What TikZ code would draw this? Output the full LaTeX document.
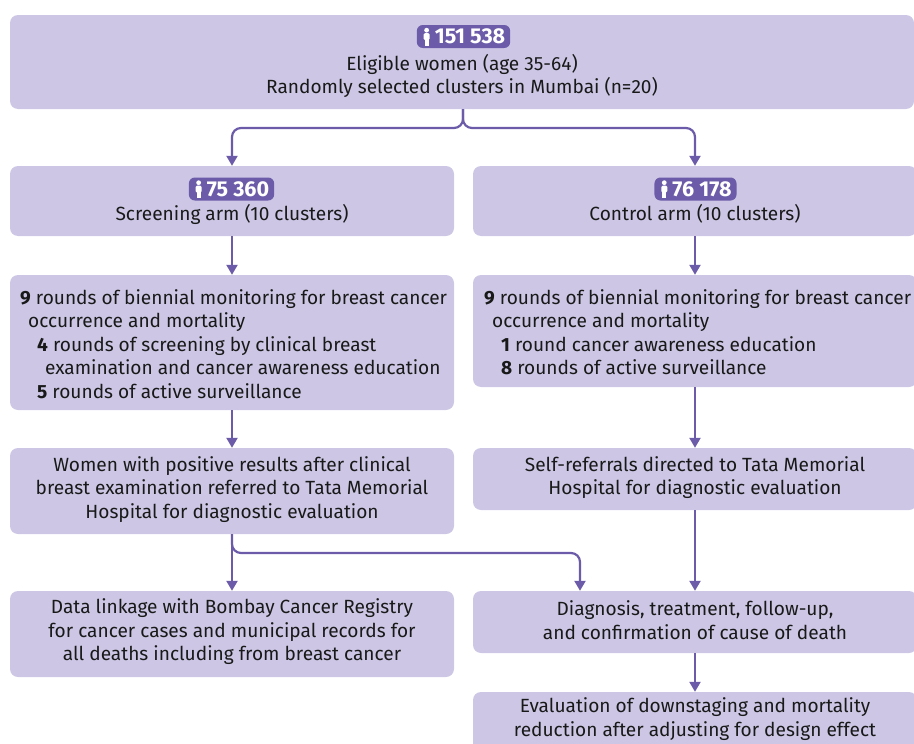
\documentclass[tikz,border=0pt]{standalone}
\usepackage{fontspec}
\setmainfont{Fira Sans}
\usetikzlibrary{arrows.meta,calc}
\definecolor{boxfill}{RGB}{205,199,229}
\definecolor{purp}{RGB}{107,91,168}
\definecolor{txt}{RGB}{25,25,25}
\begin{document}
\begin{tikzpicture}[x=1pt,y=-1pt,
  box/.style={rectangle,rounded corners=8pt,fill=boxfill,draw=none,inner sep=0pt},
  lbl/.style={inner sep=0pt,text=txt,font=\fontsize{19.1}{23.5}\selectfont},
  badge/.style={rectangle,rounded corners=6pt,fill=purp,text=white,inner xsep=5pt,inner ysep=0pt,minimum height=23pt,font=\fontsize{21.5}{22}\selectfont\bfseries},
  arr/.style={draw=purp,line width=2.2pt,-{Triangle[width=11pt,length=10pt]}},
  person/.pic={
    \fill[white] (0,-6.3) circle (2.4);
    \fill[white,rounded corners=1.4pt] (-3,-3.4) rectangle (3,3.6);
    \fill[white] (-2,2.5) rectangle (2,9.4);
  }]
\useasboundingbox (0,0) rectangle (914,744);
% boxes
\node[box,minimum width=904pt,minimum height=94pt] (top) at (462,62) {};
\node[box,minimum width=444pt,minimum height=70pt] (screen) at (232,201) {};
\node[box,minimum width=444pt,minimum height=70pt] (control) at (695,201) {};
\node[box,minimum width=444pt,minimum height=135pt] (mon1) at (232,342.5) {};
\node[box,minimum width=444pt,minimum height=112pt] (mon2) at (695,331) {};
\node[box,minimum width=444pt,minimum height=86pt] (ref1) at (232,491) {};
\node[box,minimum width=444pt,minimum height=62pt] (ref2) at (695,479) {};
\node[box,minimum width=444pt,minimum height=86pt] (link) at (232,634) {};
\node[box,minimum width=444pt,minimum height=62pt] (diag) at (695,622) {};
\node[box,minimum width=444pt,minimum height=68pt] (eval) at (695,726) {};
% badges
\node[badge] (b0) at (463.5,36.5) {\hspace{13pt}151 538};
\pic at ([xshift=10pt]b0.west) {person};
\node[badge] (b1) at (231.5,189) {\hspace{13pt}75 360};
\pic at ([xshift=10pt]b1.west) {person};
\node[badge] (b2) at (695.5,189) {\hspace{13pt}76 178};
\pic at ([xshift=10pt]b2.west) {person};
% texts
\node[lbl,align=center] (t0) at (462,76) {Eligible women (age 35-64)\\Randomly selected clusters in Mumbai (n=20)};
\node[lbl] (t1) at (232,214) {Screening arm (10 clusters)};
\node[lbl] (t2) at (695,214) {Control arm (10 clusters)};
\node[lbl,align=left,anchor=west] (t3) at (20,344) {\textbf{9} rounds of biennial monitoring for breast cancer\\
\hspace*{8pt}occurrence and mortality\\
\hspace*{17pt}\textbf{4} rounds of screening by clinical breast\\
\hspace*{25pt}examination and cancer awareness education\\
\hspace*{17pt}\textbf{5} rounds of active surveillance};
\node[lbl,align=left,anchor=west] (t4) at (484,332) {\textbf{9} rounds of biennial monitoring for breast cancer\\
\hspace*{8pt}occurrence and mortality\\
\hspace*{17pt}\textbf{1} round cancer awareness education\\
\hspace*{17pt}\textbf{8} rounds of active surveillance};
\node[lbl,align=center] (t5) at (232,489.5) {Women with positive results after clinical\\breast examination referred to Tata Memorial\\Hospital for diagnostic evaluation};
\node[lbl,align=center] (t6) at (695,477.5) {Self-referrals directed to Tata Memorial\\Hospital for diagnostic evaluation};
\node[lbl,align=center] (t7) at (232,632) {Data linkage with Bombay Cancer Registry\\for cancer cases and municipal records for\\all deaths including from breast cancer};
\node[lbl,align=center] (t8) at (695,620) {Diagnosis, treatment, follow-up,\\and confirmation of cause of death};
\node[lbl,align=center] (t9) at (695,719) {Evaluation of downstaging and mortality\\reduction after adjusting for design effect};
% connectors
\coordinate (j0) at (463,128);
\coordinate (j1) at (232,553);
\draw[arr,rounded corners=9pt] ([xshift=1pt]top.south) -- (j0) -| (screen.north);
\draw[arr,rounded corners=9pt] ([xshift=1pt]top.south) -- (j0) -| (control.north);
\draw[arr] (screen.south) -- (mon1.north);
\draw[arr] (control.south) -- (mon2.north);
\draw[arr] (mon1.south) -- (ref1.north);
\draw[arr] (mon2.south) -- (ref2.north);
\draw[arr] (ref1.south) -- (link.north);
\draw[arr,rounded corners=9pt] (ref1.south) -- (j1) -| ([xshift=-115pt]diag.north);
\draw[arr] (ref2.south) -- (diag.north);
\draw[arr] (diag.south) -- (eval.north);
\end{tikzpicture}
\end{document}
